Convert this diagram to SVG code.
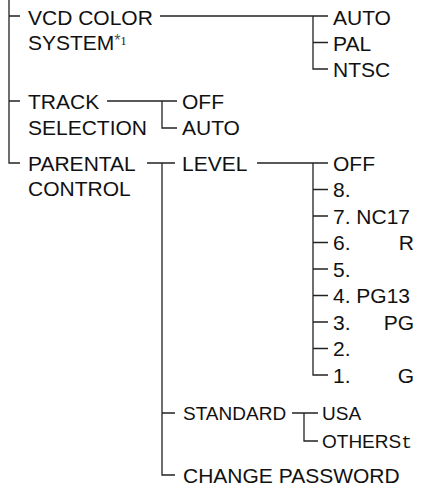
<svg xmlns="http://www.w3.org/2000/svg" width="422" height="488" viewBox="0 0 422 488">
<style>
.t{font-family:"Liberation Sans",Arial,sans-serif;font-size:21px;fill:#111}
.s{font-size:19px}
.c{fill:none;stroke:#222;stroke-width:1.3;stroke-linejoin:miter;stroke-linecap:butt}
</style>
<rect width="422" height="488" fill="#fff"/>
<g id="connectors" class="c">
<path d="M9 0V163H20M9 16H20M9 101H20"/>
<path d="M160 16H328M313 16V69H328M313 42.5H328"/>
<path d="M107 101H177M162 101V128H177"/>
<path d="M147 163H175M162 163V475H175M162 413H175"/>
<path d="M257 163H328M313 163V375H328M313 189.5H328M313 216H328M313 242.5H328M313 269H328M313 295.5H328M313 322H328M313 348.5H328"/>
<path d="M292 413H318M304 413V441H318"/>
</g>
<g id="vcd"><text class="t" x="28" y="25">VCD COLOR</text><text class="t" x="28" y="50">SYSTEM<tspan font-size="16" fill="#555" dy="-4">*</tspan><tspan font-family="Liberation Serif,serif" font-size="12" dy="-1">1</tspan></text></g>
<g id="vcd-auto"><text class="t" x="333" y="25">AUTO</text></g>
<g id="vcd-pal"><text class="t" x="333" y="50.5">PAL</text></g>
<g id="vcd-ntsc"><text class="t" x="333" y="77">NTSC</text></g>
<g id="track"><text class="t" x="28" y="108.5">TRACK</text><text class="t" x="28" y="135">SELECTION</text></g>
<g id="track-off"><text class="t" x="182" y="108.5">OFF</text></g>
<g id="track-auto"><text class="t" x="182" y="135">AUTO</text></g>
<g id="parental"><text class="t" x="28" y="170.5">PARENTAL</text><text class="t" x="28" y="196">CONTROL</text></g>
<g id="level"><text class="t" x="182" y="170.5">LEVEL</text></g>
<g id="lv-off"><text class="t" x="333" y="170.5">OFF</text></g>
<g id="lv-8"><text class="t" x="333" y="197">8.</text></g>
<g id="lv-7"><text class="t" x="333" y="223.5">7. NC17</text></g>
<g id="lv-6"><text class="t" x="333" y="250">6.</text><text class="t" x="414" y="250" text-anchor="end">R</text></g>
<g id="lv-5"><text class="t" x="333" y="276.5">5.</text></g>
<g id="lv-4"><text class="t" x="333" y="303">4. PG13</text></g>
<g id="lv-3"><text class="t" x="333" y="329.5">3.</text><text class="t" x="414" y="329.5" text-anchor="end">PG</text></g>
<g id="lv-2"><text class="t" x="333" y="356">2.</text></g>
<g id="lv-1"><text class="t" x="333" y="382.5">1.</text><text class="t" x="414" y="382.5" text-anchor="end">G</text></g>
<g id="standard"><text class="t s" x="183" y="420">STANDARD</text></g>
<g id="std-usa"><text class="t s" x="322" y="420">USA</text></g>
<g id="std-others"><text class="t s" x="322" y="447.5">OTHERS<tspan font-family="Liberation Mono,monospace" font-size="18">t</tspan></text></g>
<g id="change-password"><text class="t" x="183" y="482.5">CHANGE PASSWORD</text></g>
</svg>
